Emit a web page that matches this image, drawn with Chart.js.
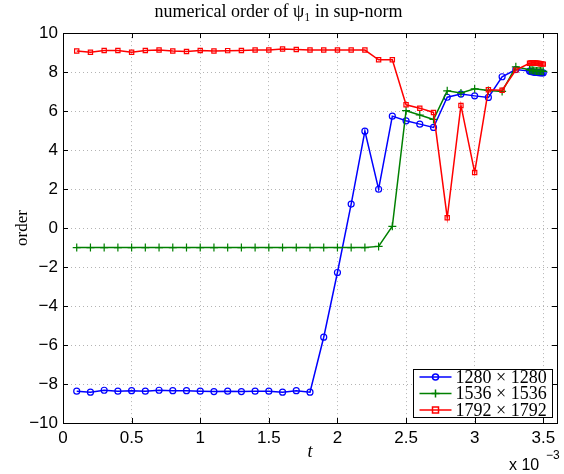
<!DOCTYPE html>
<html lang="en">
<head>
    <meta charset="UTF-8">
    <title>numerical order of psi1 in sup-norm</title>
    <script src="https://cdn.jsdelivr.net/npm/chart.js"></script>
    <style>
        body {
            margin: 0;
            padding: 0;
            background-color: #ffffff;
        }

        .chart-container {
            width: 564px;
            height: 474px;
        }
    </style>
</head>
<body>
    <div class="chart-container">
        <canvas id="orderChart" width="564" height="474"></canvas>
    </div>

    <script>
        // time t, in units of 1e-3 (the axis shows "x 10^-3")
        const tValues = [0.1, 0.2, 0.3, 0.4, 0.5, 0.6, 0.7, 0.8, 0.9, 1.0,
            1.1, 1.2, 1.3, 1.4, 1.5, 1.6, 1.7, 1.8, 1.9, 2.0,
            2.1, 2.2, 2.3, 2.4, 2.5, 2.6, 2.7, 2.8, 2.9, 3.0,
            3.1, 3.2, 3.3,
            3.40, 3.41, 3.42, 3.43, 3.44, 3.45, 3.46, 3.47, 3.48, 3.49, 3.50];

        const order1280 = [-8.37, -8.42, -8.32, -8.37, -8.34, -8.37, -8.32, -8.34, -8.34, -8.37,
            -8.39, -8.37, -8.39, -8.37, -8.37, -8.42, -8.34, -8.42, -5.60, -2.28,
            1.23, 4.97, 1.99, 5.74, 5.50, 5.33, 5.16, 6.71, 6.87, 6.78,
            6.70, 7.76, 8.13,
            8.05, 8.03, 8.01, 8.00, 7.99, 7.98, 7.98, 7.97, 7.97, 7.96, 7.96];

        const order1536 = [-1.00, -1.00, -1.00, -1.00, -1.00, -1.00, -1.00, -1.00, -1.00, -1.00,
            -1.00, -1.00, -1.00, -1.00, -1.00, -1.00, -1.00, -1.00, -1.00, -1.00,
            -1.00, -1.00, -0.94, 0.09, 6.02, 5.80, 5.57, 7.04, 6.93, 7.14,
            7.06, 7.01, 8.27,
            8.12, 8.10, 8.09, 8.08, 8.07, 8.06, 8.06, 8.05, 8.05, 8.04, 8.04];

        const order1792 = [9.08, 9.02, 9.11, 9.11, 9.02, 9.11, 9.13, 9.08, 9.06, 9.11,
            9.08, 9.10, 9.11, 9.13, 9.13, 9.18, 9.16, 9.13, 9.13, 9.13,
            9.13, 9.13, 8.63, 8.63, 6.32, 6.15, 5.93, 0.53, 6.29, 2.85,
            7.09, 7.07, 8.10,
            8.45, 8.47, 8.48, 8.48, 8.47, 8.46, 8.45, 8.44, 8.43, 8.42, 8.41];

        const seriesLabels = ['1280 \u00d7 1280', '1536 \u00d7 1536', '1792 \u00d7 1792'];
        const xTicks = [0, 0.5, 1, 1.5, 2, 2.5, 3, 3.5];
        const yTicks = [-10, -8, -6, -4, -2, 0, 2, 4, 6, 8, 10];

        const toPoints = ys => ys.map((y, i) => ({ x: tValues[i], y: y }));

        // box, inward ticks, legend and the axis exponent, MATLAB style
        const matlabFrame = {
            id: 'matlabFrame',
            afterDraw(chart) {
                const ctx = chart.ctx;
                const a = chart.chartArea;
                const xs = chart.scales.x;
                const ys = chart.scales.y;
                ctx.save();
                ctx.strokeStyle = '#000';
                ctx.lineWidth = 1;
                ctx.beginPath();
                xTicks.forEach(v => {
                    const px = Math.round(xs.getPixelForValue(v)) + 0.5;
                    ctx.moveTo(px, a.bottom); ctx.lineTo(px, a.bottom - 5);
                    ctx.moveTo(px, a.top); ctx.lineTo(px, a.top + 5);
                });
                yTicks.forEach(v => {
                    const py = Math.round(ys.getPixelForValue(v)) + 0.5;
                    ctx.moveTo(a.left, py); ctx.lineTo(a.left + 5, py);
                    ctx.moveTo(a.right, py); ctx.lineTo(a.right - 5, py);
                });
                ctx.stroke();
                ctx.strokeRect(Math.round(a.left) + 0.5, Math.round(a.top) + 0.5,
                    Math.round(a.right - a.left), Math.round(a.bottom - a.top));

                // legend in the lower right corner
                const w = 139, h = 48;
                const lx = Math.round(a.right - 5 - w) + 0.5;
                const ly = Math.round(a.bottom - 6 - h) + 0.5;
                ctx.fillStyle = '#fff';
                ctx.fillRect(lx, ly, w, h);
                ctx.strokeRect(lx, ly, w, h);
                ctx.font = '18px "Liberation Serif", serif';
                ctx.textBaseline = 'middle';
                chart.data.datasets.forEach((ds, i) => {
                    const y = ly + 7.5 + i * 16.5;
                    ctx.strokeStyle = ds.borderColor;
                    ctx.lineWidth = 1.5;
                    ctx.beginPath();
                    ctx.moveTo(lx + 6, y); ctx.lineTo(lx + 38, y);
                    ctx.stroke();
                    const mx = lx + 22;
                    ctx.beginPath();
                    if (ds.pointStyle === 'circle') {
                        ctx.arc(mx, y, ds.pointRadius, 0, Math.PI * 2);
                    } else if (ds.pointStyle === 'rect') {
                        ctx.rect(mx - ds.pointRadius, y - ds.pointRadius, ds.pointRadius * 2, ds.pointRadius * 2);
                    } else {
                        ctx.moveTo(mx - ds.pointRadius, y); ctx.lineTo(mx + ds.pointRadius, y);
                        ctx.moveTo(mx, y - ds.pointRadius); ctx.lineTo(mx, y + ds.pointRadius);
                    }
                    ctx.stroke();
                    ctx.fillStyle = '#000';
                    ctx.fillText(ds.label, lx + 42, y + 1);
                });

                // "x 10^-3" exponent under the x axis
                ctx.fillStyle = '#000';
                ctx.font = '16px "Liberation Sans", sans-serif';
                ctx.textBaseline = 'alphabetic';
                ctx.fillText('x 10', 509, 470);
                ctx.font = '12px "Liberation Sans", sans-serif';
                ctx.fillText('\u22123', 546, 459);
                ctx.restore();
            }
        };

        const tickFont = { family: '"Liberation Sans", sans-serif', size: 17 };

        new Chart(document.getElementById('orderChart'), {
            type: 'line',
            data: {
                datasets: [{
                    label: seriesLabels[0],
                    data: toPoints(order1280),
                    borderColor: '#0000ff',
                    backgroundColor: 'rgba(0,0,0,0)',
                    pointStyle: 'circle',
                    pointRadius: 3,
                    borderWidth: 1.5,
                    pointBorderWidth: 1.2,
                    order: 2
                }, {
                    label: seriesLabels[1],
                    data: toPoints(order1536),
                    borderColor: '#008000',
                    backgroundColor: 'rgba(0,0,0,0)',
                    pointStyle: 'cross',
                    pointRadius: 4,
                    borderWidth: 1.5,
                    pointBorderWidth: 1.2,
                    order: 1
                }, {
                    label: seriesLabels[2],
                    data: toPoints(order1792),
                    borderColor: '#ff0000',
                    backgroundColor: 'rgba(0,0,0,0)',
                    pointStyle: 'rect',
                    pointRadius: 3,
                    borderWidth: 1.5,
                    pointBorderWidth: 1.2,
                    order: 0
                }]
            },
            options: {
                responsive: false,
                animation: false,
                layout: { padding: { top: 0, right: 7, bottom: 0, left: 0 } },
                elements: { line: { tension: 0 } },
                plugins: {
                    legend: { display: false },
                    tooltip: { enabled: false },
                    title: {
                        display: true,
                        text: 'numerical order of \u03c8\u2081 in sup-norm',
                        color: '#000',
                        font: { family: '"Liberation Serif", serif', size: 18, weight: 'normal' },
                        padding: { top: 1.5, bottom: 10 }
                    }
                },
                scales: {
                    x: {
                        type: 'linear',
                        min: 0,
                        max: 3.6,
                        afterBuildTicks: s => { s.ticks = xTicks.map(v => ({ value: v })); },
                        afterFit: s => { s.height = 51; },
                        grid: { color: '#b4b4b4', drawTicks: false },
                        border: { display: false, dash: [1, 3] },
                        ticks: {
                            color: '#000',
                            font: tickFont,
                            padding: 5,
                            maxRotation: 0,
                            callback: v => String(v)
                        },
                        title: {
                            display: true,
                            text: 't',
                            color: '#000',
                            font: { family: '"Liberation Serif", serif', size: 18, style: 'italic' },
                            padding: { top: 0, bottom: 11 }
                        }
                    },
                    y: {
                        min: -10,
                        max: 10,
                        afterBuildTicks: s => { s.ticks = yTicks.map(v => ({ value: v })); },
                        afterFit: s => { s.width = 63; },
                        grid: { color: '#b4b4b4', drawTicks: false },
                        border: { display: false, dash: [1, 3] },
                        ticks: {
                            color: '#000',
                            font: tickFont,
                            padding: 5,
                            callback: v => String(v).replace('-', '\u2212')
                        },
                        title: {
                            display: true,
                            text: 'order',
                            color: '#000',
                            font: { family: '"Liberation Serif", serif', size: 17 },
                            padding: { top: 12, bottom: 0 }
                        }
                    }
                }
            },
            plugins: [matlabFrame]
        });
    </script>
</body>
</html>
